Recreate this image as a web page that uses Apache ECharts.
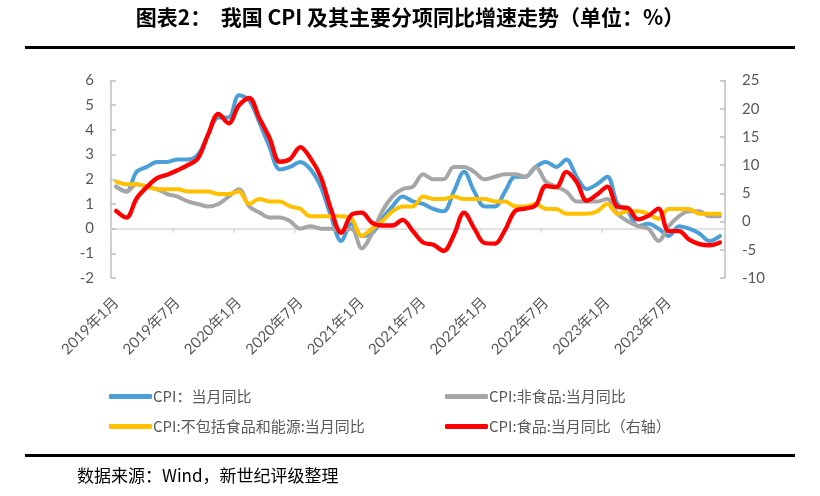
<!DOCTYPE html>
<html>
<head>
<meta charset="utf-8">
<script src="https://cdn.jsdelivr.net/npm/echarts@6/dist/echarts.min.js"></script>
<style>
html,body{margin:0;padding:0;background:#fff;}
#c{width:820px;height:496px;}
</style>
</head>
<body>
<div id="c"></div>
<script>
// months 2019-01 .. 2023-12
var years = [2019, 2020, 2021, 2022, 2023];
var months = [];
years.forEach(function (y) { for (var m = 1; m <= 12; m++) months.push(y + '年' + m + '月'); });

var seriesNames = ['CPI：当月同比', 'CPI:非食品:当月同比', 'CPI:不包括食品和能源:当月同比', 'CPI:食品:当月同比（右轴）'];

var cpi = [1.7,1.5,2.3,2.5,2.7,2.7,2.8,2.8,3.0,3.8,4.5,4.5,
           5.4,5.2,4.3,3.3,2.4,2.5,2.7,2.4,1.7,0.5,-0.5,0.2,
           -0.3,-0.2,0.4,0.9,1.3,1.1,1.0,0.8,0.7,1.5,2.3,1.5,
           0.9,0.9,1.5,2.1,2.1,2.5,2.7,2.5,2.8,2.1,1.6,1.8,
           2.1,1.0,0.7,0.1,0.2,0.0,-0.3,0.1,0.0,-0.2,-0.5,-0.3];
var nonFood = [1.7,1.5,1.8,1.7,1.6,1.4,1.3,1.1,1.0,0.9,1.0,1.3,
               1.6,0.9,0.65,0.45,0.45,0.3,0.0,0.1,0.0,0.0,-0.1,0.0,
               -0.8,-0.2,0.7,1.3,1.6,1.7,2.2,2.0,2.0,2.5,2.5,2.3,
               2.0,2.1,2.2,2.2,2.1,2.5,1.9,1.7,1.5,1.1,1.1,1.1,
               1.2,0.6,0.3,0.1,0.0,-0.5,0.1,0.5,0.7,0.7,0.5,0.5];
var core = [1.9,1.8,1.8,1.7,1.6,1.6,1.6,1.5,1.5,1.5,1.4,1.4,
            1.5,1.0,1.2,1.1,1.1,0.9,0.8,0.5,0.5,0.5,0.5,0.4,
            -0.3,0.0,0.3,0.7,0.9,0.9,1.3,1.2,1.2,1.3,1.2,1.2,
            1.2,1.1,1.1,0.9,0.9,1.0,0.8,0.8,0.6,0.6,0.6,0.7,
            1.0,0.6,0.7,0.7,0.6,0.4,0.8,0.8,0.8,0.6,0.6,0.6];
var food = [1.9,0.7,4.1,6.1,7.7,8.3,9.1,10.0,11.2,15.5,19.1,17.4,
            20.6,21.9,18.3,14.8,10.6,11.1,13.2,11.2,7.9,2.2,-2.0,1.2,
            1.6,-0.2,-0.7,-0.7,0.3,-1.7,-3.7,-4.1,-5.2,-2.4,1.6,-1.2,
            -3.8,-3.9,-1.5,1.9,2.3,2.9,6.3,6.1,8.8,7.0,3.7,4.8,
            6.2,2.6,2.4,0.4,1.0,2.3,-1.7,-1.7,-3.2,-4.0,-4.2,-3.7];

var leftTicks = {min: -2, max: 6, interval: 1};
var rightTicks = {min: -10, max: 25, interval: 5};

var colors = ['#4a9fd9', '#a6a6a6', '#ffc000', '#ff0000'];
var numFont = 'Lato, "Noto Sans CJK SC", sans-serif';
var cjkFont = '"Noto Sans CJK SC", sans-serif';

var chart = echarts.init(document.getElementById('c'), null, {renderer: 'canvas'});

function mkLegend(name, left, top) {
  return {
    data: [name], left: left, top: top, orient: 'horizontal',
    icon: 'roundRect', itemWidth: 43, itemHeight: 5, itemGap: 0,
    textStyle: {color: '#595959', fontSize: 15, fontFamily: cjkFont, padding: [0, 0, 0, -4]}
  };
}

var option = {
  animation: false,
  color: colors,
  grid: {left: 111, right: 95, top: 80.5, bottom: 218},
  legend: [
    mkLegend(seriesNames[0], 104, 384),
    mkLegend(seriesNames[1], 440, 384),
    mkLegend(seriesNames[2], 104, 414),
    mkLegend(seriesNames[3], 440, 414)
  ],
  xAxis: [
    {
      type: 'category', data: months, boundaryGap: true, position: 'bottom',
      axisLine: {show: false, onZero: false},
      axisTick: {show: false},
      axisLabel: {interval: 5, rotate: 45, margin: 22, color: '#595959', fontSize: 15, fontFamily: numFont}
    },
    {
      type: 'category', data: months, boundaryGap: true, position: 'bottom',
      axisLine: {show: true, onZero: true, onZeroAxisIndex: 0, lineStyle: {color: '#d9d9d9', width: 1.5}},
      axisTick: {show: true, interval: 5, length: 4, lineStyle: {color: '#d9d9d9', width: 1.5}},
      axisLabel: {show: false}
    }
  ],
  yAxis: [
    {
      type: 'value', min: leftTicks.min, max: leftTicks.max, interval: leftTicks.interval, position: 'left',
      splitLine: {show: false},
      axisLine: {show: true, lineStyle: {color: '#bfbfbf', width: 1.5}},
      axisTick: {show: true, inside: true, length: 5, lineStyle: {color: '#bfbfbf', width: 1.5}},
      axisLabel: {margin: 17, color: '#595959', fontSize: 15, fontFamily: numFont}
    },
    {
      type: 'value', min: rightTicks.min, max: rightTicks.max, interval: rightTicks.interval, position: 'right',
      splitLine: {show: false},
      axisLine: {show: true, lineStyle: {color: '#bfbfbf', width: 1.5}},
      axisTick: {show: true, inside: true, length: 5, lineStyle: {color: '#bfbfbf', width: 1.5}},
      axisLabel: {margin: 17, color: '#595959', fontSize: 15, fontFamily: numFont}
    }
  ],
  series: [
    {name: seriesNames[0], type: 'line', data: cpi, yAxisIndex: 0},
    {name: seriesNames[1], type: 'line', data: nonFood, yAxisIndex: 0},
    {name: seriesNames[2], type: 'line', data: core, yAxisIndex: 0},
    {name: seriesNames[3], type: 'line', data: food, yAxisIndex: 1}
  ].map(function (s, i) {
    s.smooth = 0.35;
    s.showSymbol = false;
    s.symbol = 'none';
    s.lineStyle = {width: i === 3 ? 4.3 : 4, color: colors[i], cap: 'round', join: 'round'};
    s.itemStyle = {color: colors[i]};
    return s;
  }),
  graphic: [
    {type: 'text', left: 'center', top: 7,
     style: {text: '图表2：  我国 CPI 及其主要分项同比增速走势（单位：%）', font: 'bold 21px "Noto Sans CJK SC", sans-serif', fill: '#000'}},
    {type: 'rect', shape: {x: 25, y: 46, width: 770, height: 3}, style: {fill: '#000'}},
    {type: 'rect', shape: {x: 25, y: 454, width: 770, height: 3}, style: {fill: '#000'}},
    {type: 'text', left: 77, top: 467,
     style: {text: '数据来源：Wind，新世纪评级整理', font: '17px "Noto Sans CJK SC", serif', fill: '#000'}}
  ]
};
chart.setOption(option);
</script>
</body>
</html>
